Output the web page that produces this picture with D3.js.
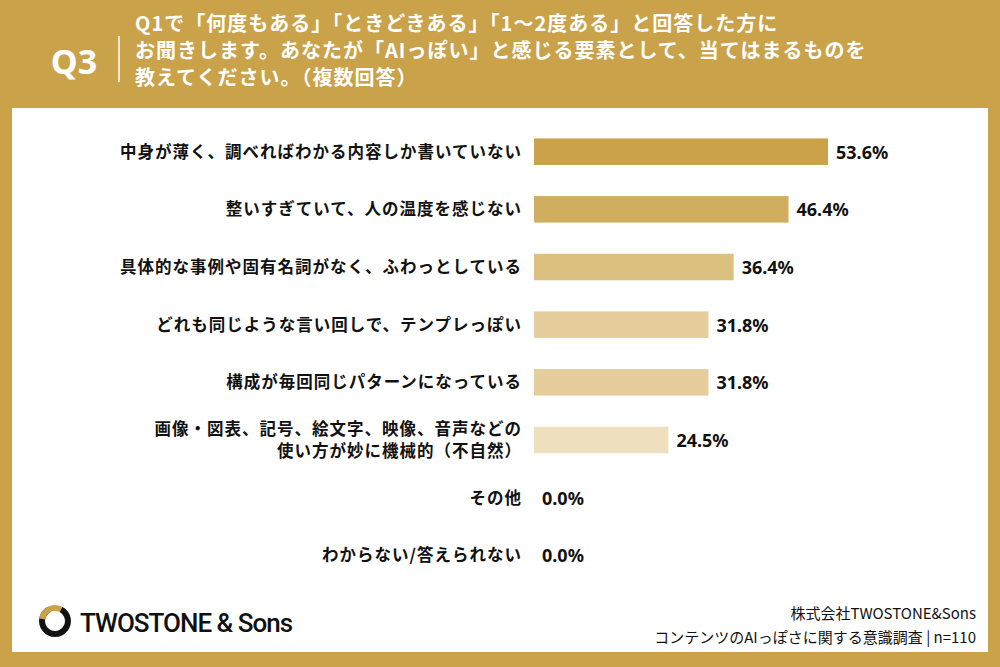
<!DOCTYPE html>
<html><head><meta charset="utf-8">
<script src="https://cdn.jsdelivr.net/npm/d3@7"></script>
<style>body{margin:0;}svg{display:block;font-family:"Noto Sans CJK JP","Noto Sans",sans-serif;}</style>
</head><body>
<div id="chart"></div>
<script>
const categories = [
  ["中身が薄く、調べればわかる内容しか書いていない"],
  ["整いすぎていて、人の温度を感じない"],
  ["具体的な事例や固有名詞がなく、ふわっとしている"],
  ["どれも同じような言い回しで、テンプレっぽい"],
  ["構成が毎回同じパターンになっている"],
  ["画像・図表、記号、絵文字、映像、音声などの", "使い方が妙に機械的（不自然）"],
  ["その他"],
  ["わからない/答えられない"]
];
const values = [53.6, 46.4, 36.4, 31.8, 31.8, 24.5, 0.0, 0.0];
const barColors = ["#C9A24A", "#D1AE5F", "#DCC080", "#E5CE9C", "#E5CE9C", "#EEDFBF", "#EEDFBF", "#EEDFBF"];
const titleLines = [
  "Q1で「何度もある」「ときどきある」「1〜2度ある」と回答した方に",
  "お聞きします。あなたが「AIっぽい」と感じる要素として、当てはまるものを",
  "教えてください。（複数回答）"
];

const W = 1000, H = 667, gold = "#C9A24A";
const svg = d3.select("#chart").append("svg").attr("width", W).attr("height", H);
svg.append("rect").attr("width", W).attr("height", H).attr("fill", gold);
svg.append("rect").attr("x", 12).attr("y", 108).attr("width", 976).attr("height", 544).attr("fill", "#fff");

// header
svg.append("text").attr("x", 74).attr("y", 74).attr("text-anchor", "middle")
  .attr("fill", "#fff").attr("font-size", 34).attr("font-weight", 700)
  .attr("font-family", "'Noto Sans',sans-serif").text("Q3");
svg.append("line").attr("x1", 119).attr("x2", 119).attr("y1", 36).attr("y2", 82)
  .attr("stroke", "#fff").attr("stroke-width", 1.5);
svg.selectAll(".title").data(titleLines).enter().append("text")
  .attr("x", 135).attr("y", (d, i) => 31 + i * 27)
  .attr("fill", "#fff").attr("font-size", 20).attr("font-weight", 700)
  .attr("letter-spacing", 1).text(d => d);

// chart
const x = d3.scaleLinear().domain([0, 53.6]).range([534, 828]);
const y = d3.scaleBand().domain(d3.range(values.length)).range([124, 583]).paddingInner(0.54).paddingOuter(0.25);

const rows = svg.selectAll(".row").data(values).enter().append("g");
rows.append("rect").attr("x", x(0)).attr("y", (d, i) => y(i))
  .attr("width", d => x(d) - x(0)).attr("height", y.bandwidth())
  .attr("fill", (d, i) => barColors[i]);
rows.append("text").attr("x", d => x(d) + 8).attr("y", (d, i) => y(i) + y.bandwidth() / 2 + 7)
  .attr("font-size", 18).attr("font-weight", 700).attr("fill", "#111")
  .attr("font-family", "'Noto Sans',sans-serif").text(d => d.toFixed(1) + "%");
rows.each(function (d, i) {
  const lines = categories[i];
  const cy = y(i) + y.bandwidth() / 2;
  d3.select(this).selectAll(".lab").data(lines).enter().append("text")
    .attr("x", 522).attr("text-anchor", "end")
    .attr("y", (t, j) => cy + 6 + (j - (lines.length - 1) / 2) * 22)
    .attr("font-size", 16.5).attr("font-weight", 700).attr("letter-spacing", 1)
    .attr("fill", "#111").text(t => t);
});

// footer
const logo = svg.append("g").attr("transform", "translate(55,621)");
logo.append("path").attr("d", d3.arc()({innerRadius: 10, outerRadius: 16, startAngle: Math.PI * 0.15, endAngle: Math.PI * 1.85}))
  .attr("fill", "#111");
logo.append("path").attr("d", d3.arc()({innerRadius: 10, outerRadius: 16, startAngle: -Math.PI * 0.45, endAngle: Math.PI * 0.15}))
  .attr("fill", gold);
svg.append("text").attr("x", 80).attr("y", 632).attr("font-size", 26).attr("font-weight", 500)
  .attr("font-family", "'Roboto',sans-serif").attr("letter-spacing", -1).attr("fill", "#111").text("TWOSTONE & Sons");
svg.append("text").attr("x", 976).attr("y", 619).attr("text-anchor", "end").attr("font-size", 15).attr("fill", "#111").text("株式会社TWOSTONE&Sons");
svg.append("text").attr("x", 976).attr("y", 643).attr("text-anchor", "end").attr("font-size", 15).attr("fill", "#111").text("コンテンツのAIっぽさに関する意識調査 | n=110");
</script>
</body></html>
